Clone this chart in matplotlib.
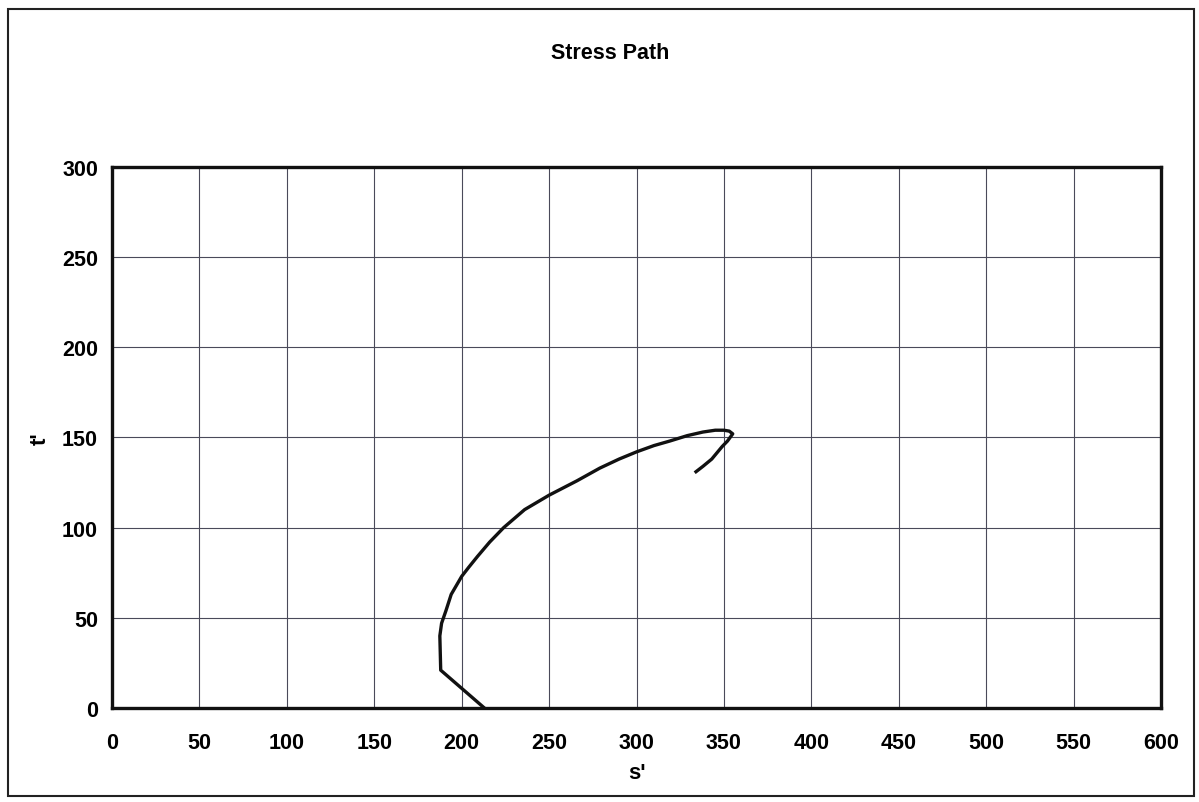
import matplotlib.pyplot as plt
from matplotlib.patches import Rectangle

# stress path (s', t') from the triaxial test
s_eff = [213, 188, 187.5, 188.5, 191, 194, 197, 200, 204, 209, 216, 224, 236,
         250, 266, 279, 290, 300, 310, 319, 329, 338, 345, 350, 353, 355,
         352, 349, 343, 338, 334]
t_eff = [0, 21, 40, 47, 54, 63, 68, 73, 78, 84, 92, 100, 110,
         118, 126, 133, 138, 142, 145.5, 148, 151, 153, 154, 154, 153.5, 152,
         148, 145, 138, 134, 131]

x_ticks = list(range(0, 601, 50))
y_ticks = list(range(0, 301, 50))

plt.rcParams['font.family'] = ['Liberation Sans', 'DejaVu Sans']
plt.rcParams['font.weight'] = 'bold'

fig = plt.figure(figsize=(11.99, 8.03), dpi=100)
ax = fig.add_axes([0.0934, 0.117, 0.875, 0.674])

ax.plot(s_eff, t_eff, color='#111111', lw=2.4, solid_joinstyle='round')

ax.set_xlim(0, 600)
ax.set_ylim(0, 300)
ax.set_xticks(x_ticks)
ax.set_yticks(y_ticks)
ax.grid(True, color='#4a4a5a', lw=0.8)
ax.tick_params(length=0, labelsize=15.5)
ax.tick_params(axis='x', pad=17)
ax.tick_params(axis='y', pad=10)
for lab in ax.get_xticklabels() + ax.get_yticklabels():
    lab.set_fontweight('bold')
for sp in ax.spines.values():
    sp.set_linewidth(2.4)
    sp.set_color('#111111')

ax.set_xlabel("s'", fontsize=16, fontweight='bold', labelpad=7)
ax.set_ylabel("t'", fontsize=16, fontweight='bold', labelpad=8)
fig.text(0.509, 0.933, 'Stress Path', ha='center', va='center',
         fontsize=15.5, fontweight='bold')

# page border
fig.patches.append(Rectangle((0.007, 0.007), 0.989, 0.980, transform=fig.transFigure,
                             fill=False, lw=1.5, ec='#222222'))

fig.savefig('out.png', dpi=100)
